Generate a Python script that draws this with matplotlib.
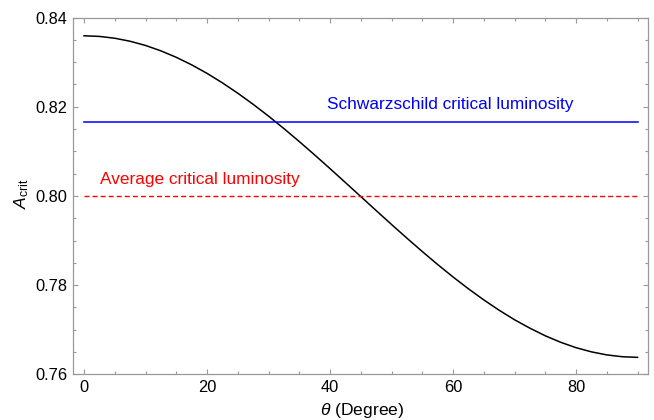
import matplotlib
matplotlib.use("Agg")
import matplotlib.pyplot as plt
from matplotlib.ticker import MultipleLocator

plt.rcParams['font.family'] = ['Liberation Sans', 'DejaVu Sans']
plt.rcParams['mathtext.fontset'] = 'custom'
plt.rcParams['mathtext.it'] = 'Liberation Sans:italic'
plt.rcParams['mathtext.rm'] = 'Liberation Sans'

theta = [0, 2.5, 5, 7.5, 10, 12.5, 15, 17.5, 20, 22.5, 25, 27.5, 30, 32.5, 35,
         37.5, 40, 42.5, 45, 47.5, 50, 52.5, 55, 57.5, 60, 62.5, 65, 67.5, 70,
         72.5, 75, 77.5, 80, 82.5, 85, 87.5, 90]
a_crit = [0.8359, 0.83576, 0.83535, 0.83467, 0.83373, 0.83252, 0.83107, 0.82938,
          0.82747, 0.82534, 0.82302, 0.82053, 0.81788, 0.81509, 0.81218, 0.80918,
          0.80611, 0.80299, 0.79985, 0.79671, 0.79359, 0.79052, 0.78752, 0.78461,
          0.78182, 0.77917, 0.77668, 0.77436, 0.77223, 0.77034, 0.76863, 0.76718,
          0.76597, 0.76503, 0.76435, 0.76394, 0.7638]
schwarzschild = 0.8166
average = 0.7999
line_range = [0, 90]
label_schw = "Schwarzschild critical luminosity"
label_avg = "Average critical luminosity"

fig = plt.figure(figsize=(6.54, 4.2), dpi=100)
ax = fig.add_axes([73/654, 1-374.3/420, (648-73)/654, (374.3-17.5)/420])

ax.plot(theta, a_crit, color='black', lw=1.1)
ax.plot(line_range, [schwarzschild]*2, color='#0000ff', lw=1.1)
ax.plot(line_range, [average]*2, color='#ff0000', lw=1.0, dashes=(3.6, 2.2))

ax.text(59.6, 0.8204, label_schw, color='#0000ff', fontsize=12.4, ha='center', va='center')
ax.text(18.9, 0.8036, label_avg, color='#ff0000', fontsize=12.4, ha='center', va='center')

ax.set_xlim(-1.8, 91.7)
ax.set_ylim(0.76, 0.84)
ax.xaxis.set_major_locator(MultipleLocator(20))
ax.xaxis.set_minor_locator(MultipleLocator(5))
ax.yaxis.set_major_locator(MultipleLocator(0.02))
ax.yaxis.set_minor_locator(MultipleLocator(0.005))
ax.yaxis.set_major_formatter(matplotlib.ticker.FormatStrFormatter('%.2f'))

for s in ax.spines.values():
    s.set_color('#999999')
    s.set_linewidth(0.9)
ax.tick_params(which='both', direction='in', top=True, right=True, color='#999999',
               labelsize=11.8, labelcolor='black', width=0.8)
ax.tick_params(which='major', length=3.5, pad=4)
ax.tick_params(which='minor', length=2)

fig.text(22/654, 1-194/420, r'$A_{\rm crit}$', rotation=90, ha='center', va='center', fontsize=12.6)
fig.text(362/654, 1-411/420, r'$\theta$ (Degree)', ha='center', va='center', fontsize=12.6)

fig.savefig('out.png', dpi=100)
